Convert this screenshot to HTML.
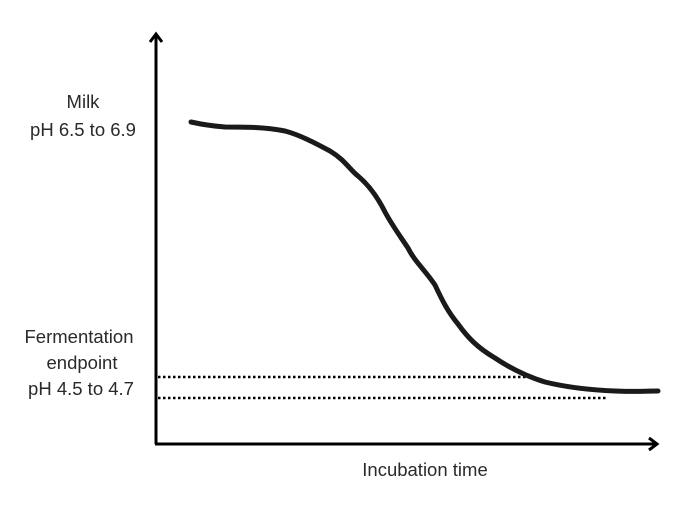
<!DOCTYPE html>
<html><head><style>
body{margin:0;background:#fff;}
svg text{font-family:"Liberation Sans",sans-serif;font-size:18.5px;fill:#2a2a2a;text-anchor:middle;}
</style></head><body>
<svg width="687" height="504" xmlns="http://www.w3.org/2000/svg">
<rect width="687" height="504" fill="#fff"/>
<line x1="156" y1="444" x2="156" y2="34" stroke="#000" stroke-width="3"/>
<polyline points="150,42 156,34 162,42" fill="none" stroke="#000" stroke-width="3"/>
<line x1="155" y1="444" x2="656" y2="444" stroke="#000" stroke-width="3"/>
<polyline points="649,438 657,444 649,450" fill="none" stroke="#000" stroke-width="3"/>
<line x1="158" y1="377" x2="527" y2="377" stroke="#000" stroke-width="2.5" stroke-dasharray="2.5,2.5"/>
<line x1="158" y1="398" x2="607" y2="398" stroke="#000" stroke-width="2.5" stroke-dasharray="2.5,2.5"/>
<path d="M191,122 C200,124 210,126 225,127 C245,127 265,127 285,131 C300,135 315,143 330,151 C345,160 350,170 358,176 C370,186 378,198 385,212 C392,225 400,236 408,248 C415,262 425,270 435,285 C442,300 448,312 458,324 C468,338 478,348 495,358 C510,368 525,376 545,382 C565,387 590,390 615,391 C630,392 645,391 658,391" fill="none" stroke="#1a1a1a" stroke-width="5" stroke-linecap="round" stroke-linejoin="round"/>
<text x="83" y="108">Milk</text>
<text x="83" y="136">pH 6.5 to 6.9</text>
<text x="79" y="343">Fermentation</text>
<text x="82" y="369">endpoint</text>
<text x="81" y="395">pH 4.5 to 4.7</text>
<text x="425" y="476">Incubation time</text>
</svg>
</body></html>
